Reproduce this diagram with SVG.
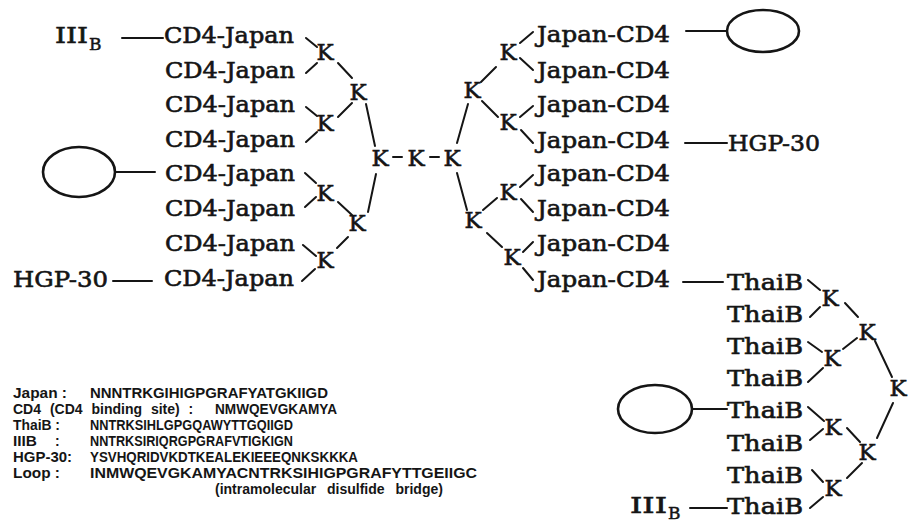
<svg xmlns="http://www.w3.org/2000/svg" width="911" height="524" viewBox="0 0 911 524">
<style>
.t{font-family:"DejaVu Serif","Liberation Serif",serif;font-size:22px;fill:#151515;stroke:#151515;stroke-width:0.6}
.k{font-family:"DejaVu Serif","Liberation Serif",serif;font-size:23px;fill:#151515;stroke:#151515;stroke-width:0.6;text-anchor:middle}
.sub{font-family:"DejaVu Serif","Liberation Serif",serif;font-size:17px;fill:#151515;stroke:#151515;stroke-width:0.5}
.lg{font-family:"Liberation Sans",Arial,sans-serif;font-weight:bold;font-size:14px;fill:#151515}
.c line{stroke:#151515;stroke-width:2;stroke-linecap:round}
.ell{fill:none;stroke:#151515;stroke-width:2.6}
</style>
<rect width="911" height="524" fill="#fff"/>

<!-- connectors -->
<g id="connectors" class="c">
  <line x1="122" y1="38" x2="163" y2="38"/>
  <line x1="115" y1="172" x2="155" y2="172"/>
  <line x1="113" y1="281" x2="152" y2="281"/>
  <line x1="306" y1="38" x2="317" y2="47"/>
  <line x1="306" y1="73" x2="317" y2="63"/>
  <line x1="338" y1="63" x2="352" y2="78"/>
  <line x1="306" y1="107" x2="317" y2="116"/>
  <line x1="306" y1="142" x2="317" y2="132"/>
  <line x1="338" y1="117" x2="352" y2="103"/>
  <line x1="366" y1="104" x2="375" y2="146"/>
  <line x1="393" y1="157" x2="402" y2="157"/>
  <line x1="430" y1="157" x2="439" y2="157"/>
  <line x1="376" y1="174" x2="368" y2="212"/>
  <line x1="305" y1="173" x2="316" y2="183"/>
  <line x1="305" y1="207" x2="316" y2="197"/>
  <line x1="338" y1="202" x2="352" y2="215"/>
  <line x1="348" y1="237" x2="337" y2="248"/>
  <line x1="303" y1="245" x2="316" y2="256"/>
  <line x1="302" y1="281" x2="315" y2="269"/>

  <line x1="457" y1="143" x2="468" y2="104"/>
  <line x1="481" y1="82" x2="496" y2="67"/>
  <line x1="520" y1="43" x2="533" y2="32"/>
  <line x1="520" y1="58" x2="533" y2="70"/>
  <line x1="482" y1="101" x2="498" y2="117"/>
  <line x1="520" y1="117" x2="533" y2="106"/>
  <line x1="521" y1="130" x2="533" y2="143"/>
  <line x1="457" y1="173" x2="467" y2="210"/>
  <line x1="483" y1="210" x2="497" y2="198"/>
  <line x1="520" y1="187" x2="533" y2="175"/>
  <line x1="521" y1="199" x2="533" y2="212"/>
  <line x1="487" y1="233" x2="502" y2="247"/>
  <line x1="523" y1="252" x2="533" y2="242"/>
  <line x1="523" y1="268" x2="533" y2="280"/>
  <line x1="686" y1="31" x2="727" y2="31"/>
  <line x1="685" y1="143" x2="727" y2="143"/>
  <line x1="683" y1="282" x2="723" y2="282"/>

  <line x1="808" y1="280" x2="820" y2="290"/>
  <line x1="810" y1="317" x2="820" y2="307"/>
  <line x1="845" y1="303" x2="858" y2="317"/>
  <line x1="808" y1="342" x2="822" y2="352"/>
  <line x1="808" y1="382" x2="823" y2="368"/>
  <line x1="843" y1="349" x2="857" y2="338"/>
  <line x1="875" y1="341" x2="892" y2="377"/>
  <line x1="893" y1="403" x2="877" y2="438"/>
  <line x1="808" y1="407" x2="824" y2="421"/>
  <line x1="810" y1="440" x2="823" y2="429"/>
  <line x1="847" y1="428" x2="860" y2="442"/>
  <line x1="862" y1="463" x2="847" y2="478"/>
  <line x1="812" y1="470" x2="823" y2="482"/>
  <line x1="810" y1="508" x2="823" y2="497"/>
  <line x1="692" y1="409" x2="727" y2="409"/>
  <line x1="690" y1="508" x2="727" y2="508"/>
</g>

<!-- left side -->
<g id="IIIB-left"><text class="t" x="55" y="43" textLength="33" lengthAdjust="spacingAndGlyphs">III</text><text class="sub" x="89" y="50">B</text></g>
<g id="loop-left"><ellipse class="ell" cx="79" cy="172" rx="36" ry="25"/></g>
<g id="HGP30-left"><text class="t" x="13" y="287" textLength="95" lengthAdjust="spacingAndGlyphs">HGP-30</text></g>
<g id="cd4j-1"><text class="t" x="164" y="43" textLength="130" lengthAdjust="spacingAndGlyphs">CD4-Japan</text></g>
<g id="cd4j-2"><text class="t" x="165" y="77.6" textLength="130" lengthAdjust="spacingAndGlyphs">CD4-Japan</text></g>
<g id="cd4j-3"><text class="t" x="165" y="112.2" textLength="130" lengthAdjust="spacingAndGlyphs">CD4-Japan</text></g>
<g id="cd4j-4"><text class="t" x="165" y="146.8" textLength="130" lengthAdjust="spacingAndGlyphs">CD4-Japan</text></g>
<g id="cd4j-5"><text class="t" x="165" y="181.4" textLength="130" lengthAdjust="spacingAndGlyphs">CD4-Japan</text></g>
<g id="cd4j-6"><text class="t" x="165" y="216" textLength="130" lengthAdjust="spacingAndGlyphs">CD4-Japan</text></g>
<g id="cd4j-7"><text class="t" x="165" y="250.6" textLength="130" lengthAdjust="spacingAndGlyphs">CD4-Japan</text></g>
<g id="cd4j-8"><text class="t" x="164" y="286" textLength="130" lengthAdjust="spacingAndGlyphs">CD4-Japan</text></g>
<g id="KL1"><text class="k" x="325" y="60">K</text></g>
<g id="KL3"><text class="k" x="325" y="131">K</text></g>
<g id="KL4"><text class="k" x="325" y="201">K</text></g>
<g id="KL6"><text class="k" x="325" y="268">K</text></g>
<g id="KL2"><text class="k" x="358" y="100">K</text></g>
<g id="KL5"><text class="k" x="357" y="231">K</text></g>
<g id="K-root-left"><text class="k" x="380" y="166">K</text></g>
<g id="K-root-mid"><text class="k" x="416" y="166">K</text></g>
<g id="K-root-right"><text class="k" x="452" y="166">K</text></g>

<!-- right side -->
<g id="KR-a"><text class="k" x="472" y="98">K</text></g>
<g id="KR-d"><text class="k" x="473" y="228">K</text></g>
<g id="KR-b"><text class="k" x="508" y="60">K</text></g>
<g id="KR-c"><text class="k" x="508" y="130">K</text></g>
<g id="KR-e"><text class="k" x="508" y="200">K</text></g>
<g id="KR-f"><text class="k" x="512" y="265">K</text></g>
<g id="jcd4-1"><text class="t" x="537" y="42" textLength="133" lengthAdjust="spacingAndGlyphs">Japan-CD4</text></g>
<g id="jcd4-2"><text class="t" x="537" y="77.6" textLength="133" lengthAdjust="spacingAndGlyphs">Japan-CD4</text></g>
<g id="jcd4-3"><text class="t" x="537" y="112.2" textLength="133" lengthAdjust="spacingAndGlyphs">Japan-CD4</text></g>
<g id="jcd4-4"><text class="t" x="537" y="147.8" textLength="133" lengthAdjust="spacingAndGlyphs">Japan-CD4</text></g>
<g id="jcd4-5"><text class="t" x="537" y="181.4" textLength="133" lengthAdjust="spacingAndGlyphs">Japan-CD4</text></g>
<g id="jcd4-6"><text class="t" x="537" y="216" textLength="133" lengthAdjust="spacingAndGlyphs">Japan-CD4</text></g>
<g id="jcd4-7"><text class="t" x="537" y="250.6" textLength="133" lengthAdjust="spacingAndGlyphs">Japan-CD4</text></g>
<g id="jcd4-8"><text class="t" x="537" y="287" textLength="133" lengthAdjust="spacingAndGlyphs">Japan-CD4</text></g>
<g id="loop-right"><ellipse class="ell" cx="763" cy="31" rx="36" ry="21"/></g>
<g id="HGP30-right"><text class="t" x="728" y="151" textLength="92" lengthAdjust="spacingAndGlyphs">HGP-30</text></g>

<!-- ThaiB tree -->
<g id="thaib-1"><text class="t" x="727" y="290" textLength="76" lengthAdjust="spacingAndGlyphs">ThaiB</text></g>
<g id="thaib-2"><text class="t" x="727" y="322" textLength="76" lengthAdjust="spacingAndGlyphs">ThaiB</text></g>
<g id="thaib-3"><text class="t" x="727" y="354" textLength="76" lengthAdjust="spacingAndGlyphs">ThaiB</text></g>
<g id="thaib-4"><text class="t" x="727" y="386" textLength="76" lengthAdjust="spacingAndGlyphs">ThaiB</text></g>
<g id="thaib-5"><text class="t" x="727" y="418" textLength="76" lengthAdjust="spacingAndGlyphs">ThaiB</text></g>
<g id="thaib-6"><text class="t" x="727" y="451" textLength="76" lengthAdjust="spacingAndGlyphs">ThaiB</text></g>
<g id="thaib-7"><text class="t" x="727" y="483" textLength="76" lengthAdjust="spacingAndGlyphs">ThaiB</text></g>
<g id="thaib-8"><text class="t" x="727" y="514" textLength="76" lengthAdjust="spacingAndGlyphs">ThaiB</text></g>
<g id="KT1"><text class="k" x="830" y="306">K</text></g>
<g id="KT3"><text class="k" x="832" y="366">K</text></g>
<g id="KT4"><text class="k" x="833" y="435">K</text></g>
<g id="KT6"><text class="k" x="833" y="496">K</text></g>
<g id="KT2"><text class="k" x="867" y="340">K</text></g>
<g id="KT5"><text class="k" x="867" y="460">K</text></g>
<g id="KT-root"><text class="k" x="898" y="396">K</text></g>
<g id="loop-bottom"><ellipse class="ell" cx="655" cy="409" rx="37" ry="24"/></g>
<g id="IIIB-bottom"><text class="t" x="630" y="513" textLength="37" lengthAdjust="spacingAndGlyphs">III</text><text class="sub" x="668" y="519">B</text></g>

<!-- legend -->
<g id="legend">
  <text class="lg" x="13" y="398" textLength="54" lengthAdjust="spacingAndGlyphs">Japan :</text>
  <text class="lg" x="90" y="398" textLength="238" lengthAdjust="spacingAndGlyphs">NNNTRKGIHIGPGRAFYATGKIIGD</text>
  <text class="lg" x="13" y="414" word-spacing="5">CD4 (CD4 binding site) :</text>
  <text class="lg" x="215" y="414" textLength="122" lengthAdjust="spacingAndGlyphs">NMWQEVGKAMYA</text>
  <text class="lg" x="13" y="430" textLength="47" lengthAdjust="spacingAndGlyphs">ThaiB :</text>
  <text class="lg" x="90" y="430" textLength="203" lengthAdjust="spacingAndGlyphs">NNTRKSIHLGPGQAWYTTGQIIGD</text>
  <text class="lg" x="13" y="446" textLength="24" lengthAdjust="spacingAndGlyphs">IIIB</text>
  <text class="lg" x="55" y="446">:</text>
  <text class="lg" x="90" y="446" textLength="203" lengthAdjust="spacingAndGlyphs">NNTRKSIRIQRGPGRAFVTIGKIGN</text>
  <text class="lg" x="13" y="462" textLength="59" lengthAdjust="spacingAndGlyphs">HGP-30:</text>
  <text class="lg" x="90" y="462" textLength="268" lengthAdjust="spacingAndGlyphs">YSVHQRIDVKDTKEALEKIEEEQNKSKKKA</text>
  <text class="lg" x="13" y="478" textLength="47" lengthAdjust="spacingAndGlyphs">Loop :</text>
  <text class="lg" x="90" y="478" textLength="387" lengthAdjust="spacingAndGlyphs">INMWQEVGKAMYACNTRKSIHIGPGRAFYTTGEIIGC</text>
  <text class="lg" x="215" y="494" word-spacing="7">(intramolecular disulfide bridge)</text>
</g>
</svg>
